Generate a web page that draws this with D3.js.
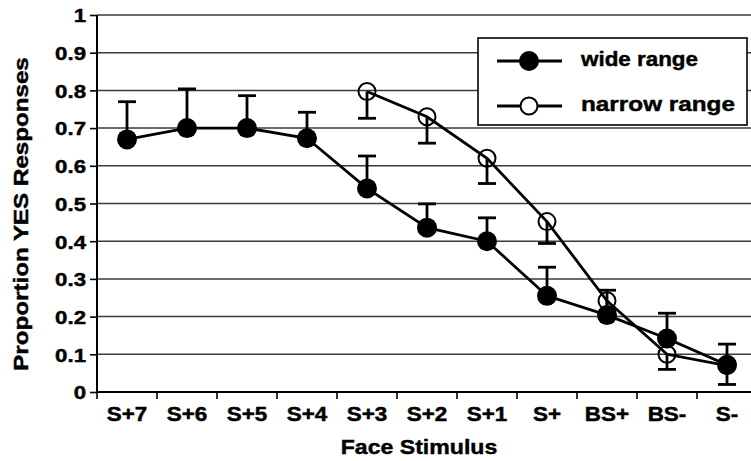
<!DOCTYPE html>
<html>
<head>
<meta charset="utf-8">
<script src="https://cdn.jsdelivr.net/npm/d3@7"></script>
<style>
  body { margin: 0; background: #fff; }
  text { font-family: "Liberation Sans", Arial, sans-serif; font-weight: bold; fill: #000; stroke: #000; stroke-width: 0.45px; }
</style>
</head>
<body>
<div id="chart"></div>
<script>
// stimulus levels on the x axis
const stimuli = ["S+7", "S+6", "S+5", "S+4", "S+3", "S+2", "S+1", "S+", "BS+", "BS-", "S-"];

// wide range: mean and upper error
const wideValues = [0.67, 0.70, 0.70, 0.673, 0.54, 0.436, 0.40, 0.255, 0.204, 0.142, 0.072];
const wideErrUp = [0.10, 0.104, 0.086, 0.069, 0.086, 0.063, 0.062, 0.076, 0.066, 0.067, 0.055];

// narrow range: only S+3 .. S-, lower error
const narrowStimuli = ["S+3", "S+2", "S+1", "S+", "BS+", "BS-", "S-"];
const narrowValues = [0.797, 0.73, 0.62, 0.452, 0.242, 0.10, 0.07];
const narrowErrDown = [0.071, 0.07, 0.067, 0.058, 0.03, 0.04, 0.05];

const yTicks = [0, 0.1, 0.2, 0.3, 0.4, 0.5, 0.6, 0.7, 0.8, 0.9, 1];

main();

// the original type is wider than Helvetica, stretch glyphs a bit
function widen(sel, k) {
    sel.each(function () {
        let w = this.getComputedTextLength();
        d3.select(this).attr("textLength", w * k).attr("lengthAdjust", "spacingAndGlyphs");
    });
}

function main() {
    let W = 751, H = 461;
    let left = 97, top = 15, bottom = 392;
    let bandW = 60;

    let svg = d3.select("#chart").append("svg")
        .attr("width", W)
        .attr("height", H);

    let x = d3.scaleBand()
        .domain(stimuli)
        .range([left, left + bandW * stimuli.length]);
    let y = d3.scaleLinear().domain([0, 1]).range([bottom, top]);

    // gridlines
    svg.append("g").selectAll("line")
        .data(yTicks.filter(d => d > 0))
        .enter().append("line")
        .attr("x1", left).attr("x2", W)
        .attr("y1", d => y(d)).attr("y2", d => y(d))
        .attr("stroke", "#3a3a3a")
        .attr("stroke-width", 1.5);

    // y axis
    let yAxis = svg.append("g")
        .attr("transform", "translate(" + left + ",0)")
        .call(d3.axisLeft(y).tickValues(yTicks).tickSize(7).tickPadding(4)
            .tickFormat(d => d === 0 || d === 1 ? d3.format("d")(d) : d3.format(".1f")(d)));
    yAxis.select(".domain").attr("stroke-width", 2).attr("d", "M0," + top + "V" + bottom);
    yAxis.selectAll(".tick line").attr("stroke-width", 1.6);
    yAxis.selectAll("text").style("font-size", "19px").attr("dy", "0.36em")
        .call(widen, 1.17);

    // x axis
    let xAxis = svg.append("g")
        .attr("transform", "translate(0," + bottom + ")");
    xAxis.append("line")
        .attr("x1", left).attr("x2", W)
        .attr("stroke", "#000").attr("stroke-width", 2);
    xAxis.selectAll(".xt")
        .data(stimuli)
        .enter().append("line")
        .attr("class", "xt")
        .attr("x1", d => x(d)).attr("x2", d => x(d))
        .attr("y1", 0).attr("y2", 7)
        .attr("stroke", "#000").attr("stroke-width", 1.6);
    xAxis.selectAll(".xl")
        .data(stimuli)
        .enter().append("text")
        .attr("class", "xl")
        .attr("x", d => x(d) + x.bandwidth() / 2)
        .attr("y", 29)
        .attr("text-anchor", "middle")
        .style("font-size", "19.5px")
        .text(d => d)
        .call(widen, 1.15);

    // axis titles
    svg.append("text")
        .attr("x", 419)
        .attr("y", 454)
        .attr("text-anchor", "middle")
        .style("font-size", "21px")
        .text("Face Stimulus")
        .call(widen, 1.1);
    svg.append("text")
        .attr("transform", "translate(28,214) rotate(-90)")
        .attr("text-anchor", "middle")
        .style("font-size", "21px")
        .text("Proportion YES Responses")
        .call(widen, 1.15);

    let cx = d => x(d) + x.bandwidth() / 2;

    let wide = stimuli.map((s, i) => ({s: s, v: wideValues[i], e: wideErrUp[i]}));
    let narrow = narrowStimuli.map((s, i) => ({s: s, v: narrowValues[i], e: narrowErrDown[i]}));

    let line = d3.line().x(d => cx(d.s)).y(d => y(d.v));

    // error bars
    function errorBars(data, dir) {
        let g = svg.append("g");
        g.selectAll(".eb").data(data).enter().append("line")
            .attr("x1", d => cx(d.s)).attr("x2", d => cx(d.s))
            .attr("y1", d => y(d.v)).attr("y2", d => y(d.v + dir * d.e))
            .attr("stroke", "#000").attr("stroke-width", 2.8);
        g.selectAll(".cap").data(data).enter().append("line")
            .attr("x1", d => cx(d.s) - 9).attr("x2", d => cx(d.s) + 9)
            .attr("y1", d => y(d.v + dir * d.e)).attr("y2", d => y(d.v + dir * d.e))
            .attr("stroke", "#000").attr("stroke-width", 2.8);
    }
    errorBars(narrow, -1);
    errorBars(wide, 1);

    svg.append("path").datum(narrow)
        .attr("d", line)
        .attr("fill", "none").attr("stroke", "#000").attr("stroke-width", 2.8);
    svg.append("path").datum(wide)
        .attr("d", line)
        .attr("fill", "none").attr("stroke", "#000").attr("stroke-width", 2.8);

    svg.append("g").selectAll("circle").data(narrow).enter().append("circle")
        .attr("cx", d => cx(d.s)).attr("cy", d => y(d.v))
        .attr("r", 8.5)
        .attr("fill", "none").attr("stroke", "#000").attr("stroke-width", 2);
    svg.append("g").selectAll("circle").data(wide).enter().append("circle")
        .attr("cx", d => cx(d.s)).attr("cy", d => y(d.v))
        .attr("r", 10)
        .attr("fill", "#000");

    // legend
    let lg = svg.append("g");
    lg.append("rect")
        .attr("x", 478).attr("y", 38)
        .attr("width", 269).attr("height", 87)
        .attr("fill", "#fff").attr("stroke", "#000").attr("stroke-width", 1.6);
    let items = [
        {name: "wide range", filled: true, yy: 61, len: 117},
        {name: "narrow range", filled: false, yy: 106, len: 154}
    ];
    items.forEach(it => {
        lg.append("line")
            .attr("x1", 497).attr("x2", 562)
            .attr("y1", it.yy).attr("y2", it.yy)
            .attr("stroke", "#000").attr("stroke-width", 2.8);
        lg.append("circle")
            .attr("cx", 529).attr("cy", it.yy)
            .attr("r", it.filled ? 10 : 8.5)
            .attr("fill", it.filled ? "#000" : "#fff")
            .attr("stroke", "#000").attr("stroke-width", it.filled ? 0 : 2);
        lg.append("text")
            .attr("x", 581).attr("y", it.yy + 5)
            .style("font-size", "21px")
            .attr("textLength", it.len)
            .attr("lengthAdjust", "spacingAndGlyphs")
            .text(it.name);
    });
}
</script>
</body>
</html>
